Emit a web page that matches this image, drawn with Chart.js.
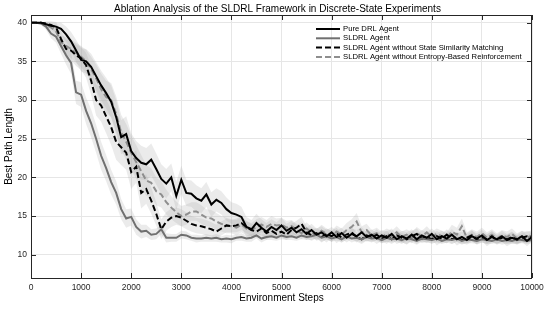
<!DOCTYPE html>
<html>
<head>
<meta charset="utf-8">
<script src="https://cdn.jsdelivr.net/npm/chart.js@4.4.0/dist/chart.umd.min.js"></script>
<style>
  html, body { margin: 0; padding: 0; background: #fff; }
  #wrap { width: 550px; height: 311px; }
</style>
</head>
<body>
<div id="wrap"><canvas id="ablationChart" width="550" height="311"></canvas></div>
<script>
// 글꼴 / 색상
const FONT = '"Liberation Sans", Arial, Helvetica, sans-serif';
const AXIS_COLOR = '#262626';
const BAND_COLOR = 'rgba(170, 170, 170, 0.24)';

// x축: 환경 스텝 (100 간격 샘플)
const steps = Array.from({ length: 101 }, (_, i) => i * 100);
const xTicks = [0, 1000, 2000, 3000, 4000, 5000, 6000, 7000, 8000, 9000, 10000];
const yTicks = [10, 15, 20, 25, 30, 35, 40];

const chartTitle = 'Ablation Analysis of the SLDRL Framework in Discrete-State Experiments';
const seriesNames = [
    'Pure DRL Agent',
    'SLDRL Agent',
    'SLDRL Agent without State Similarity Matching',
    'SLDRL Agent without Entropy-Based Reinforcement'
];

// 평균 경로 길이
const pureDrl = [
    40, 40, 40, 39.8, 39.6, 39.5, 39.2, 38.5, 37.6, 36.4,
    35.2, 35.0, 34.3, 33.1, 31.9, 30.9, 29.8, 27.8, 25.2, 25.6,
    23.4, 22.5, 21.9, 21.7, 22.3, 21.1, 19.8, 19.2, 20.0, 17.6,
    19.7, 18.0, 17.9, 17.3, 17.0, 17.8, 16.5, 17.1, 16.7, 15.9,
    15.4, 15.2, 14.9, 13.6, 13.3, 14.1, 13.5, 13.0, 13.6, 13.2,
    13.8, 13.1, 13.5, 12.9, 13.3, 12.7, 13.2, 12.6, 12.9, 12.4,
    12.9, 12.3, 12.8, 12.2, 12.7, 12.4, 12.9, 12.3, 12.6, 12.1,
    12.5, 12.2, 12.7, 12.0, 12.4, 12.1, 12.6, 12.0, 12.5, 12.2,
    12.7, 12.0, 12.4, 12.1, 12.6, 12.0, 12.3, 11.9, 12.4, 12.1,
    12.5, 11.9, 12.3, 12.0, 12.4, 11.9, 12.2, 12.0, 12.4, 11.8,
    12.3
];
const sldrl = [
    40, 40, 39.9, 39.5, 38.6, 38.2, 37.0, 35.8, 34.8, 31.0,
    30.7, 28.6, 27.0, 25.0, 22.8, 21.2, 19.4, 18.0, 15.9, 14.7,
    14.9, 13.6, 13.0, 13.1, 12.6, 12.7, 13.3, 12.2, 12.2, 12.2,
    12.6, 12.5, 12.2, 12.1, 12.1, 12.2, 12.1, 12.2, 12.0, 12.1,
    12.0, 12.2, 12.3, 12.1, 12.2, 12.5, 12.1, 12.3, 12.4, 12.2,
    12.5, 12.3, 12.4, 12.2, 12.5, 12.3, 12.4, 12.6, 12.2, 12.4,
    12.1, 12.3, 12.0, 12.4, 12.1, 12.2, 12.0, 12.3, 12.1, 12.2,
    11.9, 12.2, 12.0, 12.1, 11.9, 12.2, 12.0, 11.8, 12.1, 12.0,
    11.9, 12.1, 11.8, 12.0, 11.9, 12.1, 11.8, 12.0, 11.9, 11.8,
    12.0, 11.9, 11.8, 12.0, 11.8, 11.9, 11.8, 12.0, 11.9, 11.8,
    11.9
];
const noSimilarity = [
    40, 40, 40, 39.9, 39.7, 39.4, 37.9, 36.6, 36.4, 35.8,
    35.4, 34.5, 32.5, 30.0, 29.3, 27.9, 26.5, 24.6, 23.9, 23.2,
    20.7, 21.4, 18.0, 18.5, 17.0, 15.3, 13.3, 14.3, 14.8, 15.0,
    14.8, 14.4, 14.0, 13.8, 13.7, 13.5, 13.3, 13.0, 13.4, 13.8,
    13.7, 13.8, 14.1, 13.6, 13.2, 13.0, 13.4, 12.8, 13.1, 12.7,
    13.0, 12.6, 13.2, 13.5, 14.0, 12.9, 12.5, 12.8, 12.3, 12.7,
    12.4, 12.8, 12.2, 12.6, 12.9, 12.3, 12.0, 12.5, 12.2, 12.6,
    12.1, 12.4, 12.0, 12.5, 12.2, 12.0, 12.4, 12.7, 12.1, 12.3,
    12.0, 12.4, 12.1, 12.6, 12.0, 12.3, 11.9, 12.2, 12.5, 11.9,
    12.2, 12.0, 12.4, 11.9, 12.2, 12.0, 12.3, 11.9, 12.2, 12.4,
    12.3
];
const noEntropy = [
    40, 40, 40, 39.7, 39.4, 38.9, 37.5, 37.0, 36.6, 36.1,
    35.6, 35.0, 34.0, 32.8, 31.4, 30.4, 30.0, 28.2, 25.8, 24.6,
    23.2, 22.0, 20.8, 19.6, 19.3, 18.2, 17.8, 16.8, 16.1, 15.5,
    15.0, 15.2, 15.6, 15.6, 15.2, 14.8, 14.7, 14.3, 14.0, 13.8,
    13.7, 13.5, 13.9, 13.4, 13.2, 13.6, 13.9, 13.6, 14.0, 13.8,
    13.9, 13.5, 13.7, 13.2, 12.8, 13.4, 12.9, 12.6, 13.1, 12.7,
    12.4, 13.0, 12.6, 13.2, 13.6, 14.3, 12.9, 13.2, 12.5, 12.8,
    12.3, 12.7, 12.4, 12.9, 12.3, 12.6, 12.2, 12.8, 12.4, 12.9,
    12.3, 12.7, 12.4, 12.2, 13.0, 12.6, 13.7, 12.2, 12.6, 12.3,
    12.8, 12.2, 12.6, 12.1, 12.5, 12.3, 12.7, 12.1, 12.4, 12.2,
    12.5
];

// 음영 영역 폭 (± 값)
const pureSpread = [
    0, 0, 0, 0.3, 0.4, 0.5, 0.8, 1.0, 1.2, 1.4,
    1.5, 1.6, 1.7, 1.8, 1.9, 2.0, 2.1, 2.2, 2.2, 2.3,
    2.3, 2.2, 2.2, 2.1, 2.1, 2.0, 1.9, 1.9, 1.8, 1.8,
    1.8, 1.7, 1.7, 1.7, 1.6, 1.6, 1.6, 1.5, 1.5, 1.5,
    1.4, 1.4, 1.3, 1.3, 1.2, 1.2, 1.1, 1.1, 1.0, 1.0,
    1.0, 0.9, 0.9, 0.9, 0.9, 0.8, 0.8, 0.8, 0.8, 0.8,
    0.7, 0.8, 0.7, 0.6, 0.7, 0.8, 0.7, 0.6, 0.7, 0.7,
    0.7, 0.8, 0.7, 0.6, 0.7, 0.8, 0.7, 0.6, 0.7, 0.7,
    0.7, 0.8, 0.7, 0.6, 0.7, 0.8, 0.7, 0.6, 0.7, 0.7,
    0.7, 0.8, 0.7, 0.6, 0.7, 0.8, 0.7, 0.6, 0.7, 0.7,
    0.6
];
const sldrlSpread = [
    0, 0, 0.2, 0.4, 0.6, 0.8, 1.0, 1.2, 1.4, 1.5,
    1.6, 1.7, 1.8, 1.8, 1.8, 1.7, 1.6, 1.5, 1.3, 1.2,
    1.1, 1.0, 0.9, 0.8, 0.7, 0.7, 0.6, 0.6, 0.5, 0.5,
    0.5, 0.5, 0.4, 0.5, 0.4, 0.5, 0.4, 0.5, 0.4, 0.5,
    0.5, 0.4, 0.5, 0.4, 0.5, 0.4, 0.5, 0.4, 0.5, 0.4,
    0.5, 0.4, 0.5, 0.4, 0.5, 0.4, 0.5, 0.4, 0.5, 0.4,
    0.4, 0.5, 0.4, 0.4, 0.5, 0.4, 0.4, 0.5, 0.4, 0.4,
    0.4, 0.5, 0.4, 0.4, 0.5, 0.4, 0.4, 0.5, 0.4, 0.4,
    0.4, 0.5, 0.4, 0.4, 0.5, 0.4, 0.4, 0.5, 0.4, 0.4,
    0.4, 0.5, 0.4, 0.4, 0.5, 0.4, 0.4, 0.5, 0.4, 0.4,
    0.4
];
const noSimilaritySpread = [
    0, 0, 0, 0.3, 0.5, 0.7, 1.0, 1.2, 1.3, 1.4,
    1.5, 1.6, 1.8, 2.0, 2.1, 2.2, 2.3, 2.3, 2.3, 2.2,
    2.2, 2.1, 2.0, 1.9, 1.7, 1.5, 1.3, 1.2, 1.2, 1.1,
    1.1, 1.1, 1.0, 1.0, 1.0, 1.0, 0.9, 0.9, 0.9, 0.9,
    0.8, 0.9, 0.9, 0.8, 0.8, 0.8, 0.8, 0.7, 0.8, 0.7,
    0.8, 0.7, 0.8, 0.9, 0.9, 0.8, 0.7, 0.7, 0.7, 0.7,
    0.7, 0.7, 0.6, 0.7, 0.7, 0.6, 0.6, 0.7, 0.6, 0.7,
    0.6, 0.7, 0.6, 0.7, 0.6, 0.6, 0.7, 0.7, 0.6, 0.6,
    0.6, 0.7, 0.6, 0.7, 0.6, 0.6, 0.6, 0.6, 0.7, 0.6,
    0.6, 0.6, 0.7, 0.6, 0.6, 0.6, 0.7, 0.6, 0.6, 0.7,
    0.6
];
const noEntropySpread = [
    0, 0, 0, 0.3, 0.5, 0.7, 0.9, 1.1, 1.2, 1.3,
    1.4, 1.5, 1.6, 1.8, 2.0, 2.1, 2.2, 2.3, 2.3, 2.3,
    2.2, 2.2, 2.1, 2.0, 1.9, 1.8, 1.7, 1.6, 1.5, 1.4,
    1.3, 1.3, 1.2, 1.2, 1.2, 1.1, 1.1, 1.1, 1.0, 1.0,
    0.9, 1.0, 1.0, 0.9, 0.9, 1.0, 1.0, 0.9, 1.0, 0.9,
    0.9, 0.9, 0.8, 0.8, 0.8, 0.8, 0.7, 0.7, 0.8, 0.7,
    0.7, 0.8, 0.8, 0.9, 1.0, 1.1, 0.8, 0.8, 0.7, 0.7,
    0.7, 0.7, 0.7, 0.8, 0.7, 0.7, 0.7, 0.8, 0.7, 0.8,
    0.7, 0.7, 0.7, 0.7, 0.9, 0.9, 1.0, 0.7, 0.7, 0.7,
    0.7, 0.7, 0.7, 0.7, 0.7, 0.7, 0.7, 0.7, 0.7, 0.7,
    0.7
];

// 데이터셋 만들기 (선 + 음영 위/아래)
function toPoints(vals, offsets, sign) {
    return steps.map((s, i) => ({ x: s, y: vals[i] + (offsets ? sign * offsets[i] : 0) }));
}

function makeSeries(label, vals, spread, color, dash) {
    return [
        {
            label: label,
            data: toPoints(vals),
            borderColor: color,
            borderWidth: 2,
            borderDash: dash,
            pointRadius: 0,
            tension: 0,
            fill: false,
            order: 0
        },
        {
            label: '_band',
            data: toPoints(vals, spread, 1),
            borderColor: 'transparent',
            borderWidth: 0,
            pointRadius: 0,
            fill: false,
            order: 10
        },
        {
            label: '_band',
            data: toPoints(vals, spread, -1),
            borderColor: 'transparent',
            borderWidth: 0,
            pointRadius: 0,
            backgroundColor: BAND_COLOR,
            fill: '-1',
            order: 10
        }
    ];
}

const datasets = [].concat(
    makeSeries(seriesNames[0], pureDrl, pureSpread, '#000000', []),
    makeSeries(seriesNames[1], sldrl, sldrlSpread, '#707070', []),
    makeSeries(seriesNames[2], noSimilarity, noSimilaritySpread, '#000000', [6, 3]),
    makeSeries(seriesNames[3], noEntropy, noEntropySpread, '#8e8e8e', [6, 3])
);

// 테두리, 안쪽 눈금, 제목, 범례 그리기
const framePlugin = {
    id: 'frame',
    afterDraw(chart) {
        const { ctx, chartArea: a, scales } = chart;
        const xs = scales.x, ys = scales.y;
        ctx.save();
        ctx.strokeStyle = AXIS_COLOR;
        ctx.lineWidth = 1;
        ctx.strokeRect(a.left + 0.5, a.top + 0.5, a.right - a.left - 1, a.bottom - a.top);

        ctx.beginPath();
        xTicks.forEach(v => {
            const px = Math.round(xs.getPixelForValue(v)) + 0.5;
            ctx.moveTo(px, a.bottom); ctx.lineTo(px, a.bottom - 5);
            ctx.moveTo(px, a.top); ctx.lineTo(px, a.top + 5);
        });
        yTicks.forEach(v => {
            const py = Math.round(ys.getPixelForValue(v)) + 0.5;
            ctx.moveTo(a.left, py); ctx.lineTo(a.left + 5, py);
            ctx.moveTo(a.right, py); ctx.lineTo(a.right - 5, py);
        });
        ctx.stroke();

        // 제목
        ctx.fillStyle = '#000';
        ctx.font = '10px ' + FONT;
        ctx.textAlign = 'center';
        ctx.textBaseline = 'middle';
        ctx.fillText(chartTitle, (a.left + a.right) / 2 - 4, 9);

        // 범례 (그래프 안 오른쪽 위)
        const lines = chart.data.datasets.filter(d => d.label !== '_band');
        ctx.font = '7.7px ' + FONT;
        ctx.textAlign = 'left';
        lines.forEach((d, i) => {
            const y = 29 + i * 9.3;
            ctx.strokeStyle = d.borderColor;
            ctx.lineWidth = 2;
            ctx.setLineDash(d.borderDash);
            ctx.beginPath();
            ctx.moveTo(316, y); ctx.lineTo(340, y);
            ctx.stroke();
            ctx.setLineDash([]);
            ctx.fillStyle = '#000';
            ctx.fillText(d.label, 343, y);
        });
        ctx.restore();
    }
};

const tickFont = { family: FONT, size: 8.5 };
const titleFont = { family: FONT, size: 10 };

const ctx = document.getElementById('ablationChart').getContext('2d');
window.chart = new Chart(ctx, {
    type: 'line',
    data: { datasets: datasets },
    options: {
        responsive: false,
        animation: false,
        layout: { padding: { top: 15, right: 18, bottom: 0, left: 0 } },
        plugins: {
            legend: { display: false },
            title: { display: false },
            tooltip: { enabled: false },
            filler: { propagate: false, drawTime: 'beforeDatasetsDraw' }
        },
        scales: {
            x: {
                type: 'linear',
                min: 0,
                max: 10000,
                afterBuildTicks: s => { s.ticks = xTicks.map(v => ({ value: v })); },
                afterFit: s => { s.height = 33; },
                ticks: { font: tickFont, color: AXIS_COLOR, padding: 5, maxRotation: 0, callback: v => String(v) },
                grid: { color: '#e6e6e6', drawTicks: false, tickLength: 0 },
                border: { display: false },
                title: { display: true, text: 'Environment Steps', font: titleFont, color: '#000', padding: { top: 0, bottom: 7 } }
            },
            y: {
                type: 'linear',
                min: 7,
                max: 41,
                afterBuildTicks: s => { s.ticks = yTicks.map(v => ({ value: v })); },
                afterFit: s => { s.width = 31; },
                ticks: { font: tickFont, color: AXIS_COLOR, padding: 4 },
                grid: { color: '#e6e6e6', drawTicks: false, tickLength: 0 },
                border: { display: false },
                title: { display: true, text: 'Best Path Length', font: titleFont, color: '#000', padding: { top: 3, bottom: 0 } }
            }
        }
    },
    plugins: [framePlugin]
});
</script>
</body>
</html>
